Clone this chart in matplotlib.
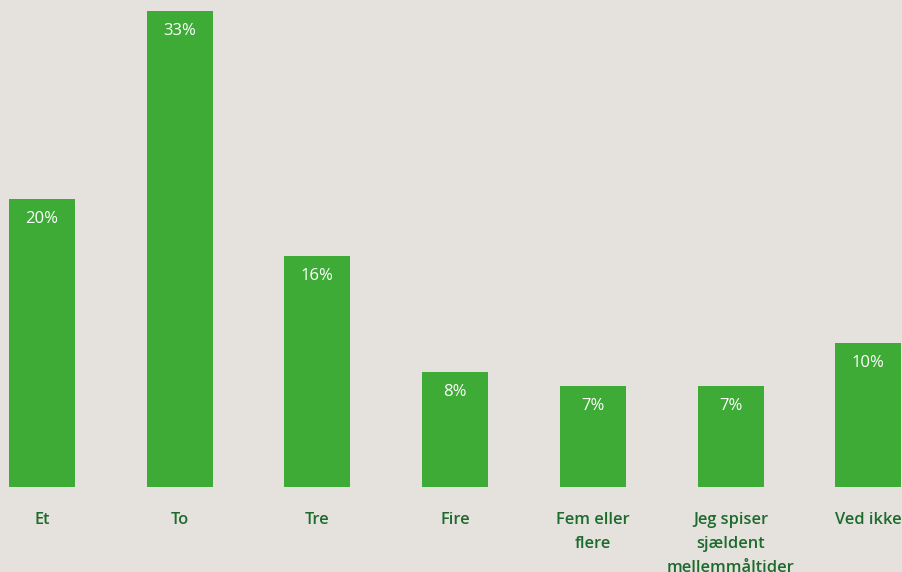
import matplotlib.pyplot as plt

categories = ["Et", "To", "Tre", "Fire", "Fem eller\nflere", "Jeg spiser\nsjældent\nmellemmåltider", "Ved ikke"]
values = [20, 33, 16, 8, 7, 7, 10]

bg = "#e5e2de"
bar_color = "#3dab35"
label_color = "#1d6a2d"

plt.rcParams['font.family'] = ['Open Sans', 'DejaVu Sans']

fig = plt.figure(figsize=(9.02, 5.72), dpi=100, facecolor=bg)
ax = fig.add_axes([0, 85 / 572, 1, 487 / 572])
ax.set_facecolor(bg)

x = list(range(len(values)))
ax.bar(x, values, width=0.48, color=bar_color)
ax.set_xlim(-0.305, 6.245)
ax.set_ylim(0, 487 / 14.42)

for xi, v, cat in zip(x, values, categories):
    ax.annotate(f"{v}%", (xi, v), xytext=(0, -20), textcoords="offset pixels",
                ha="center", va="center", color="white", fontsize=12)
    ax.annotate(cat, (xi, 0), xytext=(0, -25), textcoords="offset pixels",
                ha="center", va="top", color=label_color, fontsize=11.8,
                fontweight="semibold", linespacing=1.65, annotation_clip=False)

ax.axis("off")
fig.savefig("out.png", dpi=100, facecolor=bg)
